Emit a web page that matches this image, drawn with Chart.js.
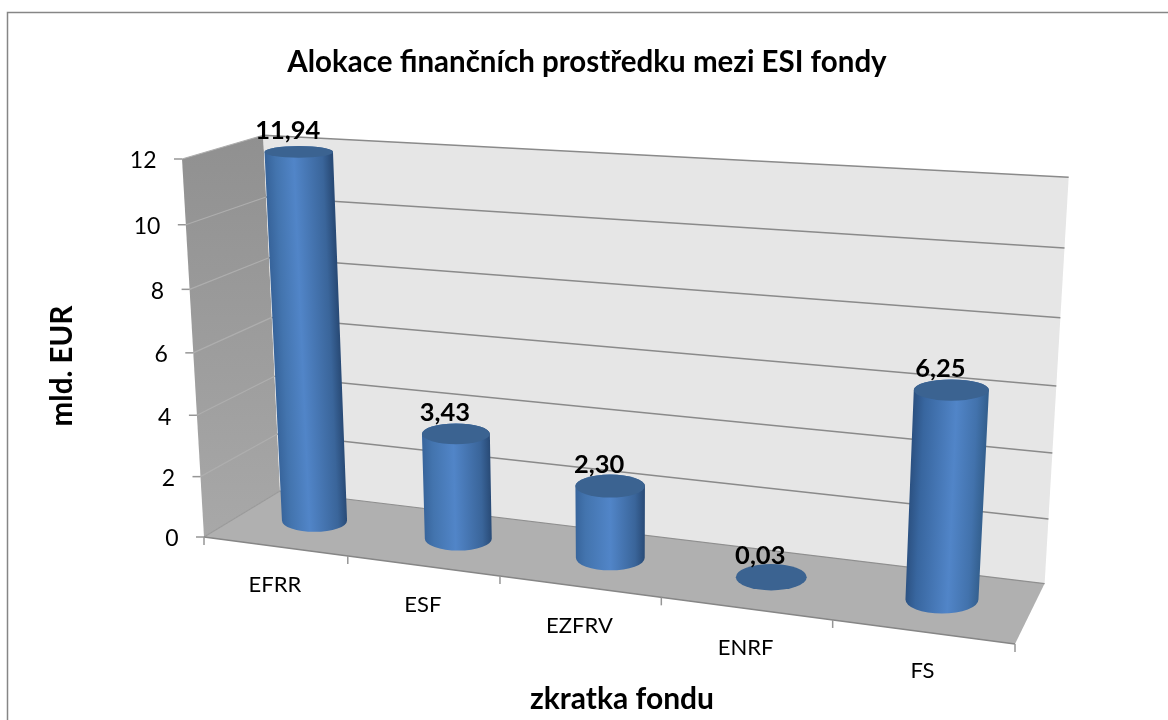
<!DOCTYPE html>
<html>
<head>
<meta charset="utf-8">
<script src="https://cdn.jsdelivr.net/npm/chart.js@4"></script>
<style>html,body{margin:0;padding:0;background:#fff;overflow:hidden}canvas{display:block}</style>
</head>
<body>
<canvas id="c" width="1168" height="720"></canvas>
<script>
const categories = ['EFRR', 'ESF', 'EZFRV', 'ENRF', 'FS'];
const values = [11.94, 3.43, 2.30, 0.03, 6.25];
const chartTitle = 'Alokace finančních prostředku mezi ESI fondy';
const xTitle = 'zkratka fondu';
const yTitle = 'mld. EUR';
const FONT = 'Lato, Carlito, sans-serif';

// Perspective calibration of the 3D box (u: along x axis, d: depth, v: height)
const O = [204, 537], A = [1015, 644], B = [280, 491], C = [182, 159];
const pa = -0.138, pb = 0.066, pc = -0.05;
const XU = [A[0]*(1+pa)-O[0], A[1]*(1+pa)-O[1]];
const XD = [B[0]*(1+pb)-O[0], B[1]*(1+pb)-O[1]];
const XV = [C[0]*(1+pc)-O[0], C[1]*(1+pc)-O[1]];
function depthW(u, d, v) { return 1 + pa*u + pb*d + pc*v; }
function proj(u, d, v) {
  const w = depthW(u, d, v);
  return [(O[0]+XU[0]*u+XD[0]*d+XV[0]*v)/w, (O[1]+XU[1]*u+XD[1]*d+XV[1]*v)/w];
}
const U = (area, px) => (px - area.left) / area.width;
const V = (area, py) => (area.bottom - py) / area.height;
const BAR_D = 0.53, DEPTH_R = 0.24;

function poly(ctx, pts, fill) {
  ctx.beginPath();
  pts.forEach((p, i) => i ? ctx.lineTo(p[0], p[1]) : ctx.moveTo(p[0], p[1]));
  ctx.closePath();
  ctx.fillStyle = fill;
  ctx.fill();
}
function seg(ctx, a, b, color, lw) {
  ctx.beginPath();
  ctx.moveTo(a[0], a[1]); ctx.lineTo(b[0], b[1]);
  ctx.strokeStyle = color; ctx.lineWidth = lw; ctx.stroke();
}
function fmt(v) { return v.toFixed(2).replace('.', ','); }

function ellipseAt(u, v, halfW) {
  const c = proj(u, BAR_D, v);
  const f = proj(u, BAR_D - DEPTH_R, v), b = proj(u, BAR_D + DEPTH_R, v);
  return { x: c[0], y: c[1], rx: halfW / depthW(u, BAR_D, v), ry: Math.abs(f[1]-b[1])/2 };
}

function drawCylinder(ctx, area, el) {
  const u = U(area, el.x);
  const top = ellipseAt(u, V(area, el.y), el.width / 2);
  const bot = ellipseAt(u, V(area, el.base), el.width / 2);
  const h = bot.y - top.y;
  if (h > 4) {
    ctx.save();
    ctx.beginPath();
    ctx.moveTo(top.x - top.rx, top.y);
    ctx.lineTo(bot.x - bot.rx, bot.y);
    ctx.ellipse(bot.x, bot.y, bot.rx, bot.ry, 0, Math.PI, 0, true);
    ctx.lineTo(top.x + top.rx, top.y);
    ctx.ellipse(top.x, top.y, top.rx, top.ry, 0, 0, Math.PI, true);
    ctx.closePath();
    ctx.clip();
    const k = (bot.x - top.x) / h;
    ctx.transform(1, 0, k, 1, -k * bot.y, 0);
    const x0 = bot.x - bot.rx, x1 = bot.x + bot.rx;
    const g = ctx.createLinearGradient(x0, 0, x1, 0);
    const hi = 0.40 + 0.2 * u;
    g.addColorStop(0, u > 0.5 ? '#2c5283' : '#38659c');
    g.addColorStop(0.14, u > 0.5 ? '#38669f' : '#4374ae');
    g.addColorStop(hi, '#5185c8');
    g.addColorStop(0.86, u > 0.5 ? '#4272ac' : '#3a659a');
    g.addColorStop(1, u > 0.5 ? '#34608f' : '#294b77');
    ctx.fillStyle = g;
    ctx.fillRect(x0 - 200, top.y - 40, x1 - x0 + 400, h + 80);
    ctx.restore();
  }
  ctx.beginPath();
  ctx.ellipse(top.x, top.y, top.rx, top.ry, 0, 0, Math.PI * 2);
  ctx.fillStyle = '#3b6391';
  ctx.fill();
}

const box3d = {
  id: 'box3d',
  afterLayout(chart) {
    // centre the title over the whole frame, not only the plot box
    chart.titleBlock.left = 0;
    chart.titleBlock.right = 1174;
  },
  beforeDatasetsDraw(chart) {
    const ctx = chart.ctx, area = chart.chartArea, ys = chart.scales.y, xs = chart.scales.x;
    ctx.save();
    // page frame
    ctx.strokeStyle = '#868686'; ctx.lineWidth = 1.5;
    ctx.beginPath(); ctx.moveTo(7.5, 720); ctx.lineTo(7.5, 12.5); ctx.lineTo(1168, 12.5); ctx.stroke();
    // walls & floor
    const lw = ctx.createLinearGradient(0, proj(0,1,1)[1], 0, proj(0,0,0)[1]);
    lw.addColorStop(0, '#909090'); lw.addColorStop(1, '#a8a8a8');
    poly(ctx, [proj(0,0,0), proj(0,1,0), proj(0,1,1), proj(0,0,1)], lw);
    poly(ctx, [proj(0,1,0), proj(1,1,0), proj(1,1,1), proj(0,1,1)], '#e6e6e6');
    poly(ctx, [proj(0,0,0), proj(1,0,0), proj(1,1,0), proj(0,1,0)], '#b0b0b0');
    // gridlines, y ticks and labels from the value scale
    ctx.font = '23px ' + FONT;
    ctx.textAlign = 'right'; ctx.textBaseline = 'middle';
    ys.ticks.forEach(t => {
      const v = V(area, ys.getPixelForValue(t.value));
      const f = proj(0,0,v), b = proj(0,1,v), e = proj(1,1,v);
      seg(ctx, f, b, t.value === 0 ? '#9a9a9a' : '#aeaeae', 1.2);
      if (t.value > 0) seg(ctx, b, e, '#8a8a8a', 1.5);
      seg(ctx, [f[0]-8, f[1]], f, '#969696', 1.5);
      ctx.fillStyle = '#000';
      ctx.fillText(t.label, f[0] - 25.5, f[1] + 2);
    });
    // floor edges
    seg(ctx, proj(0,1,0), proj(1,1,0), '#8f8f8f', 1.2);
    seg(ctx, proj(0,0,0), proj(1,0,0), '#868686', 1.5);
    // x ticks
    for (let i = 0; i <= categories.length; i++) {
      const p = proj(i / categories.length, 0, 0);
      seg(ctx, p, [p[0], p[1] + 8], '#969696', 1.5);
    }
    // category labels
    ctx.font = '22px ' + FONT;
    ctx.textAlign = 'center'; ctx.textBaseline = 'middle';
    ctx.fillStyle = '#000';
    xs.ticks.forEach((t, i) => {
      const p = proj(U(area, xs.getPixelForTick(i)), 0, 0);
      ctx.fillText(categories[t.value], p[0], p[1] + 39);
    });
    ctx.restore();
  },
  beforeDatasetDraw(chart, args) {
    const ctx = chart.ctx, area = chart.chartArea;
    ctx.save();
    args.meta.data.forEach(el => drawCylinder(ctx, area, el));
    ctx.restore();
    return false;
  },
  afterDatasetsDraw(chart) {
    const ctx = chart.ctx, area = chart.chartArea;
    const meta = chart.getDatasetMeta(0);
    ctx.save();
    ctx.font = 'bold 25.5px ' + FONT;
    ctx.textAlign = 'center'; ctx.textBaseline = 'middle'; ctx.fillStyle = '#000';
    meta.data.forEach((el, i) => {
      const c = proj(U(area, el.x), BAR_D, V(area, el.y));
      ctx.fillText(fmt(values[i]), c[0] - 11, c[1] - 21);
    });
    ctx.restore();
  }
};

function shiftTitle(scale, dx, dy) {
  if (scale._titleShifted) return;
  scale._titleShifted = true;
  const orig = scale.drawTitle;
  scale.drawTitle = function () {
    this.ctx.save();
    this.ctx.translate(dx, dy);
    orig.call(this);
    this.ctx.restore();
  };
}

new Chart(document.getElementById('c'), {
  type: 'bar',
  data: {
    labels: categories,
    datasets: [{ data: values, backgroundColor: '#4f81bd', barPercentage: 0.41, categoryPercentage: 1 }]
  },
  plugins: [box3d],
  options: {
    responsive: false,
    animation: false,
    layout: { padding: { left: 48, right: 153, top: 0, bottom: 4 } },
    plugins: {
      legend: { display: false },
      tooltip: { enabled: false },
      title: {
        display: true, text: chartTitle, color: '#000',
        font: { family: FONT, size: 29.5, weight: 'bold', lineHeight: 1.2 },
        padding: { top: 45, bottom: 78.6 }
      }
    },
    scales: {
      x: {
        type: 'category',
        grid: { display: false },
        border: { display: false },
        ticks: { display: false },
        title: { display: true, text: xTitle, color: '#000', font: { family: FONT, size: 30, weight: 'bold' }, padding: 0 },
        afterFit(s) { s.height = 179; shiftTitle(s, 12.5, 1); }
      },
      y: {
        min: 0, max: 12,
        grid: { display: false },
        border: { display: false },
        ticks: { display: false, stepSize: 2 },
        title: { display: true, text: yTitle, color: '#000', font: { family: FONT, size: 29.5, weight: 'bold' }, padding: 0 },
        afterFit(s) { s.width = 156; shiftTitle(s, -3, 18); }
      }
    }
  }
});
</script>
</body>
</html>
